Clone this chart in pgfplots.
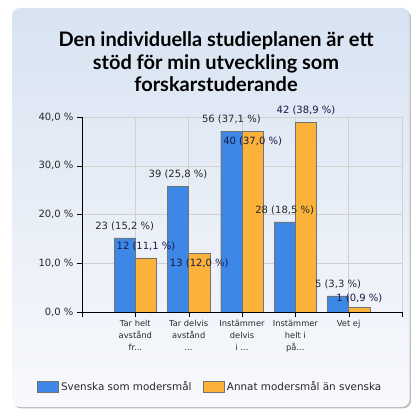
\documentclass[border=0pt]{standalone}
\usepackage{pgfplots}
\pgfplotsset{compat=1.18}
\usepackage{fontspec}
\setmainfont{DejaVu Sans}
\newfontfamily\titlefont{Lato}[BoldFont={Lato Bold}]
\newcommand\ddd{...}
\definecolor{barblue}{RGB}{61,135,230}
\definecolor{barorange}{RGB}{251,178,59}
\definecolor{paneltop}{RGB}{216,227,242}
\definecolor{panelbot}{RGB}{248,249,252}
\definecolor{txt}{RGB}{40,40,40}
\definecolor{navy}{RGB}{25,25,70}
\begin{document}
\begin{tikzpicture}
\useasboundingbox (0pt,0pt) rectangle (411pt,412pt);
\fill[white] (0pt,0pt) rectangle (411pt,412pt);
\fill[black!25,rounded corners=8pt] (13.5pt,3.5pt) rectangle (411pt,402.5pt);
\shade[top color=paneltop,bottom color=panelbot,rounded corners=8pt] (12pt,5pt) rectangle (409.5pt,404pt);
\node[align=center,font=\titlefont\bfseries\fontsize{20}{22.5}\selectfont,text=black] at (216pt,350pt)
  {Den individuella studieplanen är ett\\stöd för min utveckling som\\forskarstuderande};
\begin{axis}[
  at={(82pt,100pt)}, anchor=south west,
  scale only axis, width=320pt, height=195pt,
  xmin=0, xmax=6, ymin=0, ymax=40,
  ybar=0pt, bar width=21.3pt,
  axis lines=left, axis line style={-,black},
  tick align=outside, major tick length=5pt,
  tick style={black},
  xtick={0,1,2,3,4,5,6},
  xticklabels={,{Tar helt\\avstånd\\fr\ddd},{Tar delvis\\avstånd\\\ddd},{Instämmer\\delvis\\i \ddd},{Instämmer\\helt i\\på\ddd},{Vet ej},},
  xticklabel style={align=center,font=\fontsize{8.3}{11.7}\selectfont,text=txt},
  ytick={0,10,20,30,40},
  yticklabels={{0,0 \%},{10,0 \%},{20,0 \%},{30,0 \%},{40,0 \%}},
  yticklabel style={font=\fontsize{10}{12}\selectfont,text=txt},
  grid=major, major grid style={black!18},
  point meta=explicit symbolic,
  every node near coord/.append style={font=\fontsize{10}{12}\selectfont,anchor=center,inner sep=0pt},
  legend columns=2,
  legend style={at={(0.4,-0.385)},anchor=center,draw=none,fill=none,
    font=\fontsize{10.4}{12}\selectfont,text=txt,
    /tikz/every odd column/.append style={column sep=1pt},
    /tikz/every even column/.append style={column sep=9pt}},
  legend image code/.code={\draw[#1] (0pt,-5pt) rectangle (21pt,6pt);},
]
\addplot[fill=barblue,draw=black!55,bar shift=-10.65pt,nodes near coords,
  every node near coord/.append style={text=txt,yshift=11.5pt}] coordinates {
 (1,15.2) [23 (15,2 \%)]
 (2,25.8) [39 (25,8 \%)]
 (3,37.1) [56 (37,1 \%)]
 (4,18.5) [28 (18,5 \%)]
 (5,3.3) [5 (3,3 \%)]
};
\addplot[fill=barorange,draw=black!55,bar shift=10.65pt] coordinates {
 (1,11.1) (2,12.0) (3,37.0) (4,38.9) (5,0.9)
};
\addplot[draw=none,fill=none,bar shift=10.65pt,forget plot,nodes near coords,
  every node near coord/.append style={text=navy,yshift=11.5pt}] coordinates {
 (1,11.1) [12 (11,1 \%)]
 (4,38.9) [42 (38,9 \%)]
};
\addplot[draw=none,fill=none,bar shift=10.65pt,forget plot,nodes near coords,
  every node near coord/.append style={text=navy,yshift=-10pt}] coordinates {
 (2,12.0) [13 (12,0 \%)]
 (3,37.0) [40 (37,0 \%)]
};
\addplot[draw=none,fill=none,bar shift=10.65pt,forget plot,nodes near coords,
  every node near coord/.append style={text=navy,yshift=9pt}] coordinates {
 (5,0.9) [1 (0,9 \%)]
};
\legend{Svenska som modersmål,Annat modersmål än svenska}
\end{axis}
\end{tikzpicture}
\end{document}
